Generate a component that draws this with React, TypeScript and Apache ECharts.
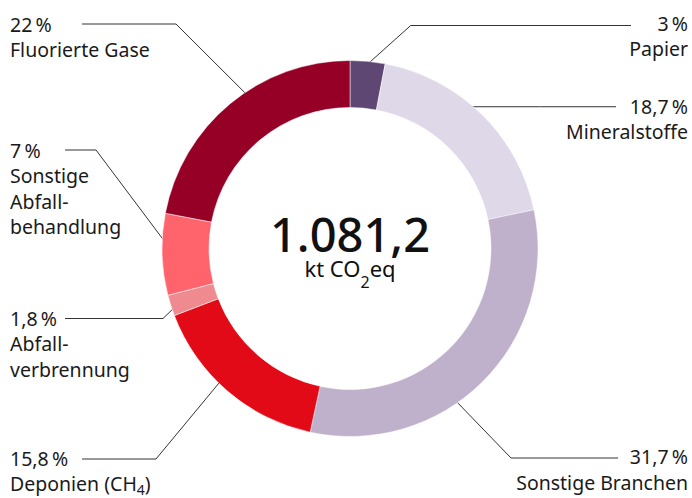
import React, { useEffect, useRef } from 'react';
import * as echarts from 'echarts';

// ---------- data ----------
const categories = [
  'Papier',
  'Mineralstoffe',
  'Sonstige Branchen',
  'Deponien (CH4)',
  'Abfallverbrennung',
  'Sonstige Abfallbehandlung',
  'Fluorierte Gase',
];
const shares = [3, 18.7, 31.7, 15.8, 1.8, 7, 22];
// label text lines (rich markup), one entry per category
const labelNames = [
  ['{t|Papier}'],
  ['{t|Mineralstoffe}'],
  ['{t|Sonstige Branchen}'],
  ['{t|Deponien (CH}{sub|4}{t|)}'],
  ['{t|Abfall-}', '{t|verbrennung}'],
  ['{t|Sonstige}', '{t|Abfall-}', '{t|behandlung}'],
  ['{t|Fluorierte Gase}'],
];
const colors = ['#5f4774', '#dfd8e8', '#bfb0cc', '#e30a17', '#ef8a90', '#ff646c', '#970026'];
const totalValue = '1.081,2';
const totalUnit = ['kt CO', '2', 'eq'];

// ---------- layout (positions of labels / leader lines) ----------
type Lay = { side: 'left' | 'right'; textY: number; lineY: number | null; endX: number; elbowX: number | null; frac: number; r: number };
const labelLayouts: Lay[] = [
  { side: 'right', textY: 24, lineY: 25.5, endX: 631, elbowX: 410.7, frac: 0.5, r: 185 },
  { side: 'right', textY: 107, lineY: null, endX: 616, elbowX: null, frac: 0.42, r: 182.6 },
  { side: 'right', textY: 457.5, lineY: 458, endX: 618, elbowX: 511, frac: 0.59, r: 181 },
  { side: 'left', textY: 458.7, lineY: 459, endX: 82, elbowX: 156, frac: 0.566, r: 180 },
  { side: 'left', textY: 319, lineY: 318.5, endX: 65, elbowX: 163, frac: 0.43, r: 182 },
  { side: 'left', textY: 151, lineY: 150, endX: 65, elbowX: 96, frac: 0.57, r: 180 },
  { side: 'left', textY: 25, lineY: 24, endX: 82, elbowX: 176, frac: 0.576, r: 181 },
];

const FONT = '"Noto Sans", sans-serif';
const TEXT_COLOR = '#1a1a1a';
const LABEL_SIZE = 19.5;
const LABEL_LH = 25.5;

const fmtPct = (v: number) => String(v).replace('.', ',') + '\u202F%';

export default function App() {
  const ref = useRef<HTMLDivElement>(null);

  useEffect(() => {
    if (!ref.current) return;
    const chart = echarts.init(ref.current, null, { renderer: 'svg' });
    const cx = 350;
    const cy = 248.5;
    const total = shares.reduce((a, b) => a + b, 0);
    const cum: number[] = [];
    shares.reduce((acc, v, i) => {
      cum[i] = acc;
      return acc + v;
    }, 0);

    const anchorOf = (i: number): number[] => {
      const L = labelLayouts[i];
      const theta = ((cum[i] + L.frac * shares[i]) / total) * 2 * Math.PI;
      return [cx + L.r * Math.sin(theta), cy - L.r * Math.cos(theta)];
    };

    const option: any = {
      animation: false,
      series: [
        {
          type: 'pie',
          silent: true,
          center: [cx, cy],
          radius: [141, 188],
          startAngle: 90,
          clockwise: true,
          avoidLabelOverlap: false,
          itemStyle: { borderColor: '#ffffff', borderWidth: 0.5 },
          emphasis: { disabled: true },
          data: categories.map((name, i) => ({
            name,
            value: shares[i],
            itemStyle: { color: colors[i] },
          })),
          label: {
            show: true,
            position: 'outside',
            formatter: (p: any) => {
              const i = p.dataIndex;
              return ['{t|' + fmtPct(shares[i]) + '}', ...labelNames[i]].join('\n');
            },
            rich: {
              t: { fontFamily: FONT, fontSize: LABEL_SIZE, lineHeight: LABEL_LH, color: TEXT_COLOR },
              sub: {
                fontFamily: FONT,
                fontSize: 14,
                lineHeight: 9,
                verticalAlign: 'bottom',
                color: TEXT_COLOR,
              },
            },
          },
          labelLine: {
            show: true,
            smooth: false,
            minTurnAngle: 0,
            maxSurfaceAngle: 180,
            lineStyle: { color: '#333333', width: 1 },
          },
          labelLayout: (params: any) => {
            const i = params.dataIndex;
            const L = labelLayouts[i];
            const a = anchorOf(i);
            const ly = L.lineY == null ? a[1] : L.lineY;
            const elbow = L.elbowX == null ? [(a[0] + L.endX) / 2, ly] : [L.elbowX, ly];
            const end = [L.endX, ly];
            return {
              x: L.side === 'left' ? 10 : 688,
              y: L.textY - 0.031 * LABEL_SIZE - LABEL_LH / 2,
              align: L.side,
              verticalAlign: 'top',
              labelLinePoints: [a, elbow, end],
            };
          },
        },
      ],
      graphic: [
        {
          type: 'text',
          x: cx,
          y: 233.5,
          silent: true,
          style: {
            text: totalValue,
            fontFamily: FONT,
            fontSize: 47,
            fontWeight: 500,
            fill: '#111111',
            align: 'center',
            verticalAlign: 'middle',
          },
        },
        {
          type: 'text',
          x: cx,
          y: 268.2,
          silent: true,
          style: {
            text: '{a|' + totalUnit[0] + '}{s|' + totalUnit[1] + '}{a|' + totalUnit[2] + '}',
            align: 'center',
            verticalAlign: 'middle',
            rich: {
              a: {
                fontFamily: FONT,
                fontSize: 22,
                lineHeight: 44,
                fill: '#111111',
                color: '#111111',
              },
              s: {
                fontFamily: FONT,
                fontSize: 16,
                lineHeight: 10,
                verticalAlign: 'bottom',
                fill: '#111111',
                color: '#111111',
              },
            },
          },
        },
      ],
    };
    chart.setOption(option);
    return () => chart.dispose();
  }, []);

  return (
    <div
      ref={ref}
      style={{ position: 'fixed', left: 0, top: 0, width: 692, height: 498, background: '#ffffff' }}
    />
  );
}
